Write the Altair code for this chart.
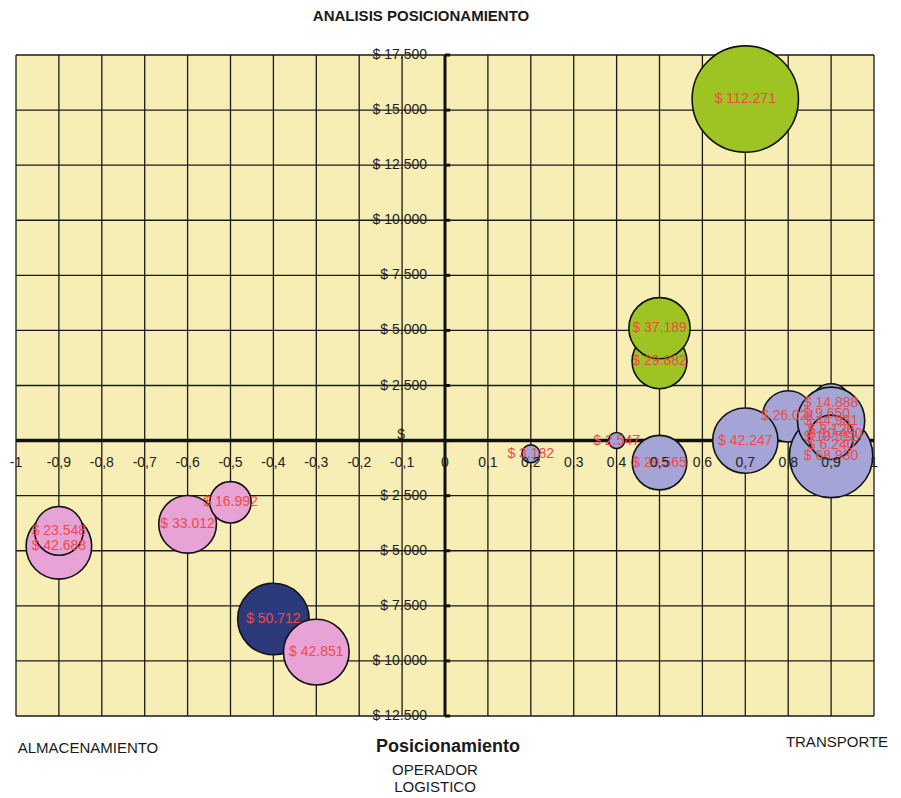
import altair as alt
import pandas as pd

# ---- data ----
bub_x = [0.7, 0.5, 0.5, 0.8, 0.7, 0.9, 0.9, 0.89, 0.91, 0.9, 0.9, 0.9, 0.9, 0.5, 0.4, 0.2,
         -0.9, -0.9, -0.6, -0.5, -0.4, -0.3]
bub_y = [15500, 3600, 5100, 1100, 0, -700, 1700, 1200, 300, 500, -200, 900, 150, -1000, 0, -600,
         -4800, -4100, -3800, -2800, -8100, -9600]
bub_v = [112271, 29882, 37189, 26021, 42247, 68930, 14888, 9650, 10450, 8120, 6240, 44981, 19512,
         29565, 2547, 3182, 42688, 23548, 33012, 16992, 50712, 42851]
bub_lab = ["$ 112.271", "$ 29.882", "$ 37.189", "$ 26.021", "$ 42.247", "$ 68.930", "$ 14.888",
           "$ 9.650", "$ 10.450", "$ 8.120", "$ 6.240", "$ 44.981", "$ 19.512", "$ 29.565",
           "$ 2.547", "$ 3.182", "$ 42.688", "$ 23.548", "$ 33.012", "$ 16.992", "$ 50.712",
           "$ 42.851"]
bub_grp = ["verde", "verde", "verde", "lila", "lila", "lila", "lila", "lila", "lila", "lila", "lila",
           "lila", "lila", "lila", "lila", "lila", "rosa", "rosa", "rosa", "rosa", "azul", "rosa"]

x_ticks = [-1, -0.9, -0.8, -0.7, -0.6, -0.5, -0.4, -0.3, -0.2, -0.1, 0,
           0.1, 0.2, 0.3, 0.4, 0.5, 0.6, 0.7, 0.8, 0.9, 1]
x_labels = ["-1", "-0,9", "-0,8", "-0,7", "-0,6", "-0,5", "-0,4", "-0,3", "-0,2", "-0,1", "0",
            "0,1", "0,2", "0,3", "0,4", "0,5", "0,6", "0,7", "0,8", "0,9", "1"]
y_ticks = [17500, 15000, 12500, 10000, 7500, 5000, 2500, 0,
           -2500, -5000, -7500, -10000, -12500]
y_labels = ["$ 17.500", "$ 15.000", "$ 12.500", "$ 10.000", "$ 7.500", "$ 5.000", "$ 2.500", "",
            "$ 2.500", "$ 5.000", "$ 7.500", "$ 10.000", "$ 12.500"]

groups = ["verde", "lila", "rosa", "azul"]
group_colors = ["#9DC423", "#A4A4D6", "#E8A3D6", "#2C3A7C"]

bubbles = pd.DataFrame({"x": bub_x, "y": bub_y, "v": bub_v, "lab": bub_lab, "g": bub_grp,
                        "o": list(range(len(bub_x)))})
xt = pd.DataFrame({"x": x_ticks, "lab": x_labels})
xt["zero"] = 0.0
yt = pd.DataFrame({"y": y_ticks, "lab": y_labels})
yt["zero"] = 0.0
yt["tk"] = 0.012
origin = pd.DataFrame({"x": [0.0], "y": [0.0], "lab": ["$"]})
one = pd.DataFrame({"k": [1]})

xs = alt.Scale(domain=[-1, 1], nice=False, zero=False)
ys = alt.Scale(domain=[-12500, 17500], nice=False, zero=False)
FONT = "Liberation Sans"

vgrid = alt.Chart(xt).mark_rule(color="#1a1a1a", strokeWidth=1.3).encode(
    x=alt.X("x:Q", scale=xs, axis=None))
hgrid = alt.Chart(yt).mark_rule(color="#1a1a1a", strokeWidth=1.3).encode(
    y=alt.Y("y:Q", scale=ys, axis=None))
xaxis = alt.Chart(origin).mark_rule(color="#111", strokeWidth=3.5).encode(
    y=alt.Y("y:Q", scale=ys, axis=None))
yaxis = alt.Chart(origin).mark_rule(color="#111", strokeWidth=3).encode(
    x=alt.X("x:Q", scale=xs, axis=None))
yticks_m = alt.Chart(yt).mark_rule(color="#111", strokeWidth=3).encode(
    y=alt.Y("y:Q", scale=ys, axis=None),
    x=alt.X("zero:Q", scale=xs, axis=None), x2="tk:Q")

circles = alt.Chart(bubbles).mark_circle(opacity=1, stroke="#111", strokeWidth=1.6).encode(
    x=alt.X("x:Q", scale=xs, axis=None),
    y=alt.Y("y:Q", scale=ys, axis=None),
    size=alt.Size("v:Q", scale=alt.Scale(domain=[0, 112271], range=[0, 11310]), legend=None),
    color=alt.Color("g:N", scale=alt.Scale(domain=groups, range=group_colors), legend=None),
    order=alt.Order("o:Q"),
)
blabels = alt.Chart(bubbles).mark_text(font=FONT, fontSize=14, color="#F04A48",
                                        baseline="middle", align="center").encode(
    x=alt.X("x:Q", scale=xs, axis=None),
    y=alt.Y("y:Q", scale=ys, axis=None),
    text="lab:N",
)
xlabs = alt.Chart(xt).mark_text(font=FONT, fontSize=14, color="#222", baseline="middle",
                                 align="center", dy=22).encode(
    x=alt.X("x:Q", scale=xs, axis=None), y=alt.Y("zero:Q", scale=ys, axis=None), text="lab:N")
ylabs = alt.Chart(yt).mark_text(font=FONT, fontSize=14, color="#222", baseline="middle",
                                 align="right", dx=-18).encode(
    y=alt.Y("y:Q", scale=ys, axis=None), x=alt.X("zero:Q", scale=xs, axis=None), text="lab:N")
zlab = alt.Chart(origin).mark_text(font=FONT, fontSize=14, color="#222", baseline="bottom",
                                    align="right", dx=-40, dy=1).encode(
    x=alt.X("x:Q", scale=xs, axis=None), y=alt.Y("y:Q", scale=ys, axis=None), text="lab:N")

def note(txt, px, py, size=13, bold=False):
    return alt.Chart(one).mark_text(font=FONT, fontSize=size, color="#1a1a1a",
                                    fontWeight="bold" if bold else "normal",
                                    align="center", baseline="middle", text=txt).encode(
        x=alt.value(px), y=alt.value(py))

notes = [
    note("ANALISIS POSICIONAMIENTO", 405, -39, 15, True),
    note("ALMACENAMIENTO", 72, 693, 15),
    note("Posicionamiento", 432, 692, 18, True),
    note("OPERADOR", 419, 715, 15),
    note("LOGISTICO", 419, 732, 15),
    note("TRANSPORTE", 821, 687, 15),
]

chart = alt.layer(vgrid, hgrid, xaxis, yaxis, yticks_m, circles, blabels, xlabs, ylabs, zlab,
                  *notes).properties(
    width=858, height=661,
    autosize=alt.AutoSizeParams(type="none"),
    padding={"left": 16, "top": 55, "right": 27, "bottom": 82},
    background="white",
).configure_view(fill="#F7EEB6", stroke=None)

chart.save("out.html", embed_options={"renderer": "svg", "actions": False})
